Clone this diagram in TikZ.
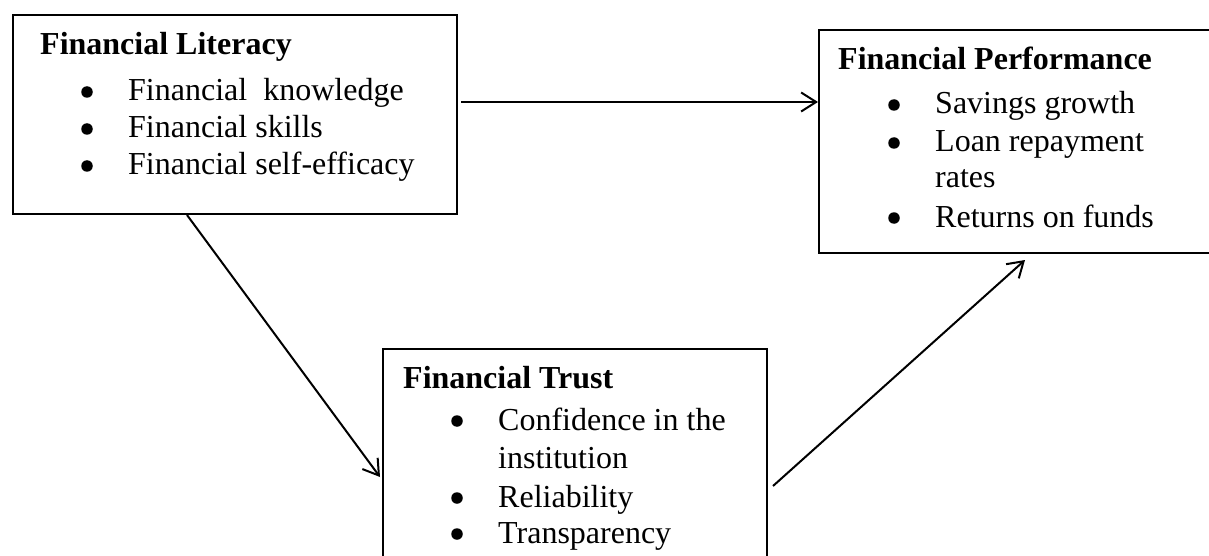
\documentclass[tikz,border=0pt]{standalone}
\usepackage{fontspec}
\setmainfont{Liberation Serif}
\usetikzlibrary{arrows.meta}

\tikzset{
  box/.style={draw, line width=2pt, anchor=north west, inner sep=0pt},
  head/.style={anchor=base west, inner sep=0pt, font=\fontsize{32}{37}\selectfont\bfseries},
  item/.style={anchor=base west, inner sep=0pt, font=\fontsize{32}{37}\selectfont},
  bul/.style={circle, fill, inner sep=0pt, minimum size=11.5pt},
  arr/.style={line width=2pt, -{Straight Barb[length=15pt,width=19pt,line width=2pt]}},
}

\begin{document}
\begin{tikzpicture}[x=1pt,y=-1pt]
\useasboundingbox (0,0) rectangle (1209,556);
\clip (0,0) rectangle (1209,556);

% boxes
\node[box, minimum width=444, minimum height=199] (lit) at (12,14) {};
\node[box, minimum width=394, minimum height=223] (perf) at (818,29) {};
\node[box, minimum width=384, minimum height=260] (trust) at (382,348) {};

% literacy
\node[head] (litH) at (40,55) {Financial Literacy};
\foreach \y/\t [count=\i] in {101/{Financial\ \ knowledge}, 138/{Financial skills}, 175/{Financial self-efficacy}} {
  \node[bul] (litB\i) at (87,\y-9) {};
  \node[item] (litI\i) at (128,\y) {\t};
}

% performance
\node[head] (perfH) at (838,70) {Financial Performance};
\foreach \y/\t [count=\i] in {114/{Savings growth}, 152/{Loan repayment}, 227/{Returns on funds}} {
  \node[bul] (perfB\i) at (894,\y-9) {};
  \node[item] (perfI\i) at (935,\y) {\t};
}
\node[item] (perfI2b) at (935,188) {rates};

% trust
\node[head] (trustH) at (403,388) {Financial Trust};
\foreach \y/\t [count=\i] in {430/{Confidence in the}, 507/{Reliability}, 543/{Transparency}} {
  \node[bul] (trustB\i) at (457,\y-9) {};
  \node[item] (trustI\i) at (498,\y) {\t};
}
\node[item] (trustI1b) at (498,468) {institution};

% links
\draw[arr] ([shift={(3,88)}]lit.north east) -- ([shift={(0,73)}]perf.north west);
\draw[arr] ([xshift=175pt]lit.south west) -- ([shift={(-2,129)}]trust.north west);
\draw[arr] ([shift={(5,138)}]trust.north east) -- ([shift={(207,6)}]perf.south west);
\end{tikzpicture}
\end{document}
